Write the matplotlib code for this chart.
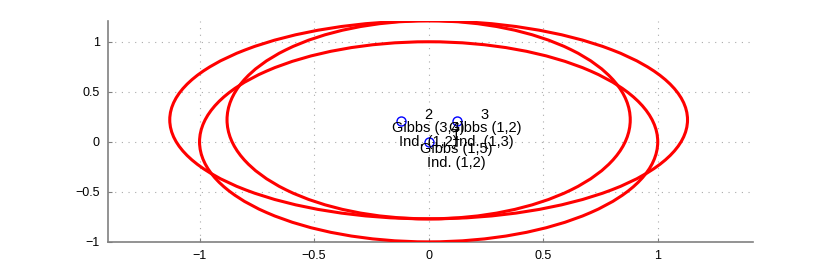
import matplotlib
matplotlib.use("Agg")
import matplotlib.pyplot as plt
from matplotlib.patches import Ellipse

# ellipses: centre x, centre y, half width, half height
ell_cx = [0.0, 0.0, 0.0]
ell_cy = [0.22, 0.0, 0.22]
ell_rx = [1.13, 1.0, 0.88]
ell_ry = [0.99, 1.0, 0.99]

# labelled points
pt_x = [0.0, -0.12, 0.125]
pt_y = [0.0, 0.21, 0.21]
pt_id = ["1", "2", "3"]
pt_gibbs = ["Gibbs (1,5)", "Gibbs (3,4)", "Gibbs (1,2)"]
pt_ind = ["Ind. (1,2)", "Ind. (1,2)", "Ind. (1,3)"]

ticks = [-1, -0.5, 0, 0.5, 1]
tick_labels = ["\u22121", "\u22120.5", "0", "0.5", "1"]

plt.rcParams["font.family"] = ["Liberation Sans", "DejaVu Sans"]

fig = plt.figure(figsize=(8.3, 2.73), dpi=100)
ax = fig.add_axes([0.130, 0.114, 0.777, 0.810])

for cx, cy, rx, ry in zip(ell_cx, ell_cy, ell_rx, ell_ry):
    ax.add_patch(Ellipse((cx, cy), 2 * rx, 2 * ry, fill=False,
                         edgecolor="#ff0000", linewidth=2.2, zorder=3))

ax.plot(pt_x, pt_y, "o", markerfacecolor="none", markeredgecolor="#0000ff",
        markersize=6.5, markeredgewidth=1.0, zorder=4)
for x, y, n, g, i in zip(pt_x, pt_y, pt_id, pt_gibbs, pt_ind):
    ax.text(x + 0.12, y - 0.075, n + "\n" + g + "\n" + i, ha="center",
            va="center", fontsize=10.5, linespacing=0.95, zorder=5)

ax.set_xlim(-1.4, 1.415)
ax.set_ylim(-1, 1.21)
ax.set_xticks(ticks)
ax.set_xticklabels(tick_labels)
ax.set_yticks(ticks)
ax.set_yticklabels(tick_labels)
ax.grid(True, linestyle=(0, (1, 5)), color="#aaaaaa", linewidth=0.8)
ax.set_axisbelow(True)

for s in ["top", "right"]:
    ax.spines[s].set_visible(False)
for s in ["left", "bottom"]:
    ax.spines[s].set_color("#808080")
    ax.spines[s].set_linewidth(1.2)
ax.tick_params(direction="in", length=3, color="#808080", labelsize=9,
               pad=6)

fig.savefig("out.png", dpi=100)
